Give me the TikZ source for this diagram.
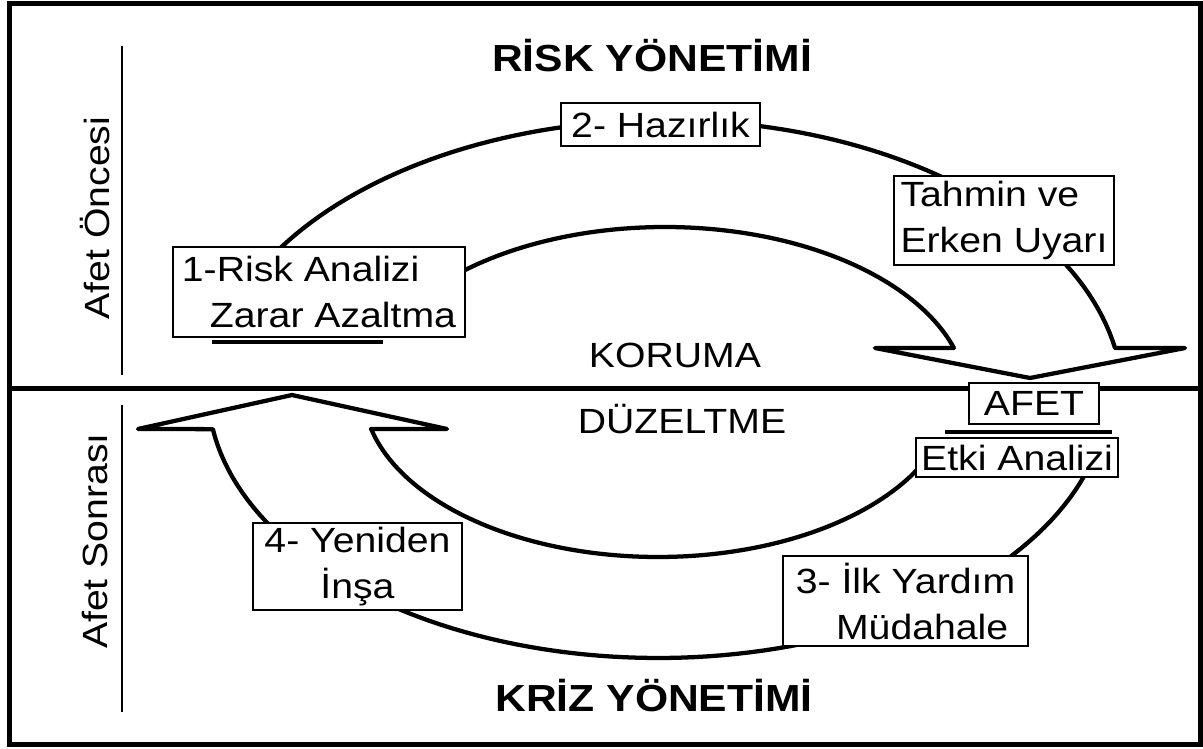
\documentclass[tikz,border=0pt]{standalone}
\usepackage{fontspec}
\setmainfont[FakeStretch=1.12]{Liberation Sans}
\newfontfamily\titlefont[FakeStretch=1.13]{Liberation Sans}

\begin{document}
\begin{tikzpicture}[
    x=0.75pt, y=-0.75pt,
    every node/.style={font=\fontsize{26.25}{34.5}\selectfont},
    box/.style={draw, fill=white, line width=1pt, inner sep=0pt, align=center},
    baslik/.style={font=\titlefont\fontsize{28.3}{32}\selectfont\bfseries, anchor=base},
    etiket/.style={anchor=base},
    yan/.style={rotate=90},
    band/.style={draw, line width=3.2pt, line join=round}
]

\useasboundingbox (0,0) rectangle (1203,749);

% çerçeve ve ayırıcı
\draw[line width=3.75pt] (9,4) rectangle (1200,744);
\draw[line width=3.75pt] (9,388) -- (1200,388);

% yan çizgiler
\draw[line width=1.1pt] (122,46) -- (122,375);
\draw[line width=1.1pt] (122,405) -- (122,712);

% üst ok (koruma)
\draw[band] plot[domain=203.1:349.3, samples=90] ({665+458*cos(\x)}, {400+280*sin(\x)})
    -- (1185,348) -- (1030,378) -- (875,348) -- (954,348)
    -- plot[domain=342.5:219.5, samples=90] ({665+303*cos(\x)}, {400+173*sin(\x)}) -- cycle;

% alt ok (düzeltme)
\draw[band] plot[domain=15.1:171.6, samples=90] ({658+450*cos(\x)}, {390+268*sin(\x)})
    -- (138,429) -- (292,395) -- (447,429) -- (371,429)
    -- plot[domain=166.5:24.8, samples=90] ({658+295*cos(\x)}, {390+167*sin(\x)}) -- cycle;

% kutular
\node[box, minimum width=219pt, minimum height=67.5pt, align=left] (risk) at (319,292) {1-Risk Analizi\\\hspace*{21pt}Zarar Azaltma};
\node[box, minimum width=149.25pt, minimum height=32.25pt] (hazirlik) at (660.5,124.5) {2- Hazırlık};
\node[box, minimum width=165pt, minimum height=66.75pt, align=left] (tahmin) at (1004,220.5) {Tahmin ve\\Erken Uyarı};
\node[box, minimum width=97.5pt, minimum height=30.75pt] (afet) at (1034,403.5) {AFET};
\node[box, minimum width=151.5pt, minimum height=29.25pt] (etki) at (1017,457.5) {Etki Analizi};
\node[box, minimum width=183.75pt, minimum height=67.5pt] (yardim) at (905.5,601) {3- İlk Yardım\\\hspace*{25pt}Müdahale};
\node[box, minimum width=156.75pt, minimum height=65.25pt] (yeniden) at (357.5,566.5) {4- Yeniden\\İnşa};

% alt çizgiler
\draw[line width=3pt] (212,342) -- (383,342);
\draw[line width=3pt] (945,432) -- (1112,432);

% yazılar
\node[baslik] (riskyon) at (652,72) {RİSK YÖNETİMİ};
\node[baslik] (krizyon) at (654,711) {KRİZ YÖNETİMİ};
\node[etiket] (koruma) at (675,367) {KORUMA};
\node[etiket] (duzeltme) at (682,433) {DÜZELTME};
\node[yan] (once) at (95,218) {Afet Öncesi};
\node[yan] (sonra) at (95,541) {Afet Sonrası};

\end{tikzpicture}
\end{document}
